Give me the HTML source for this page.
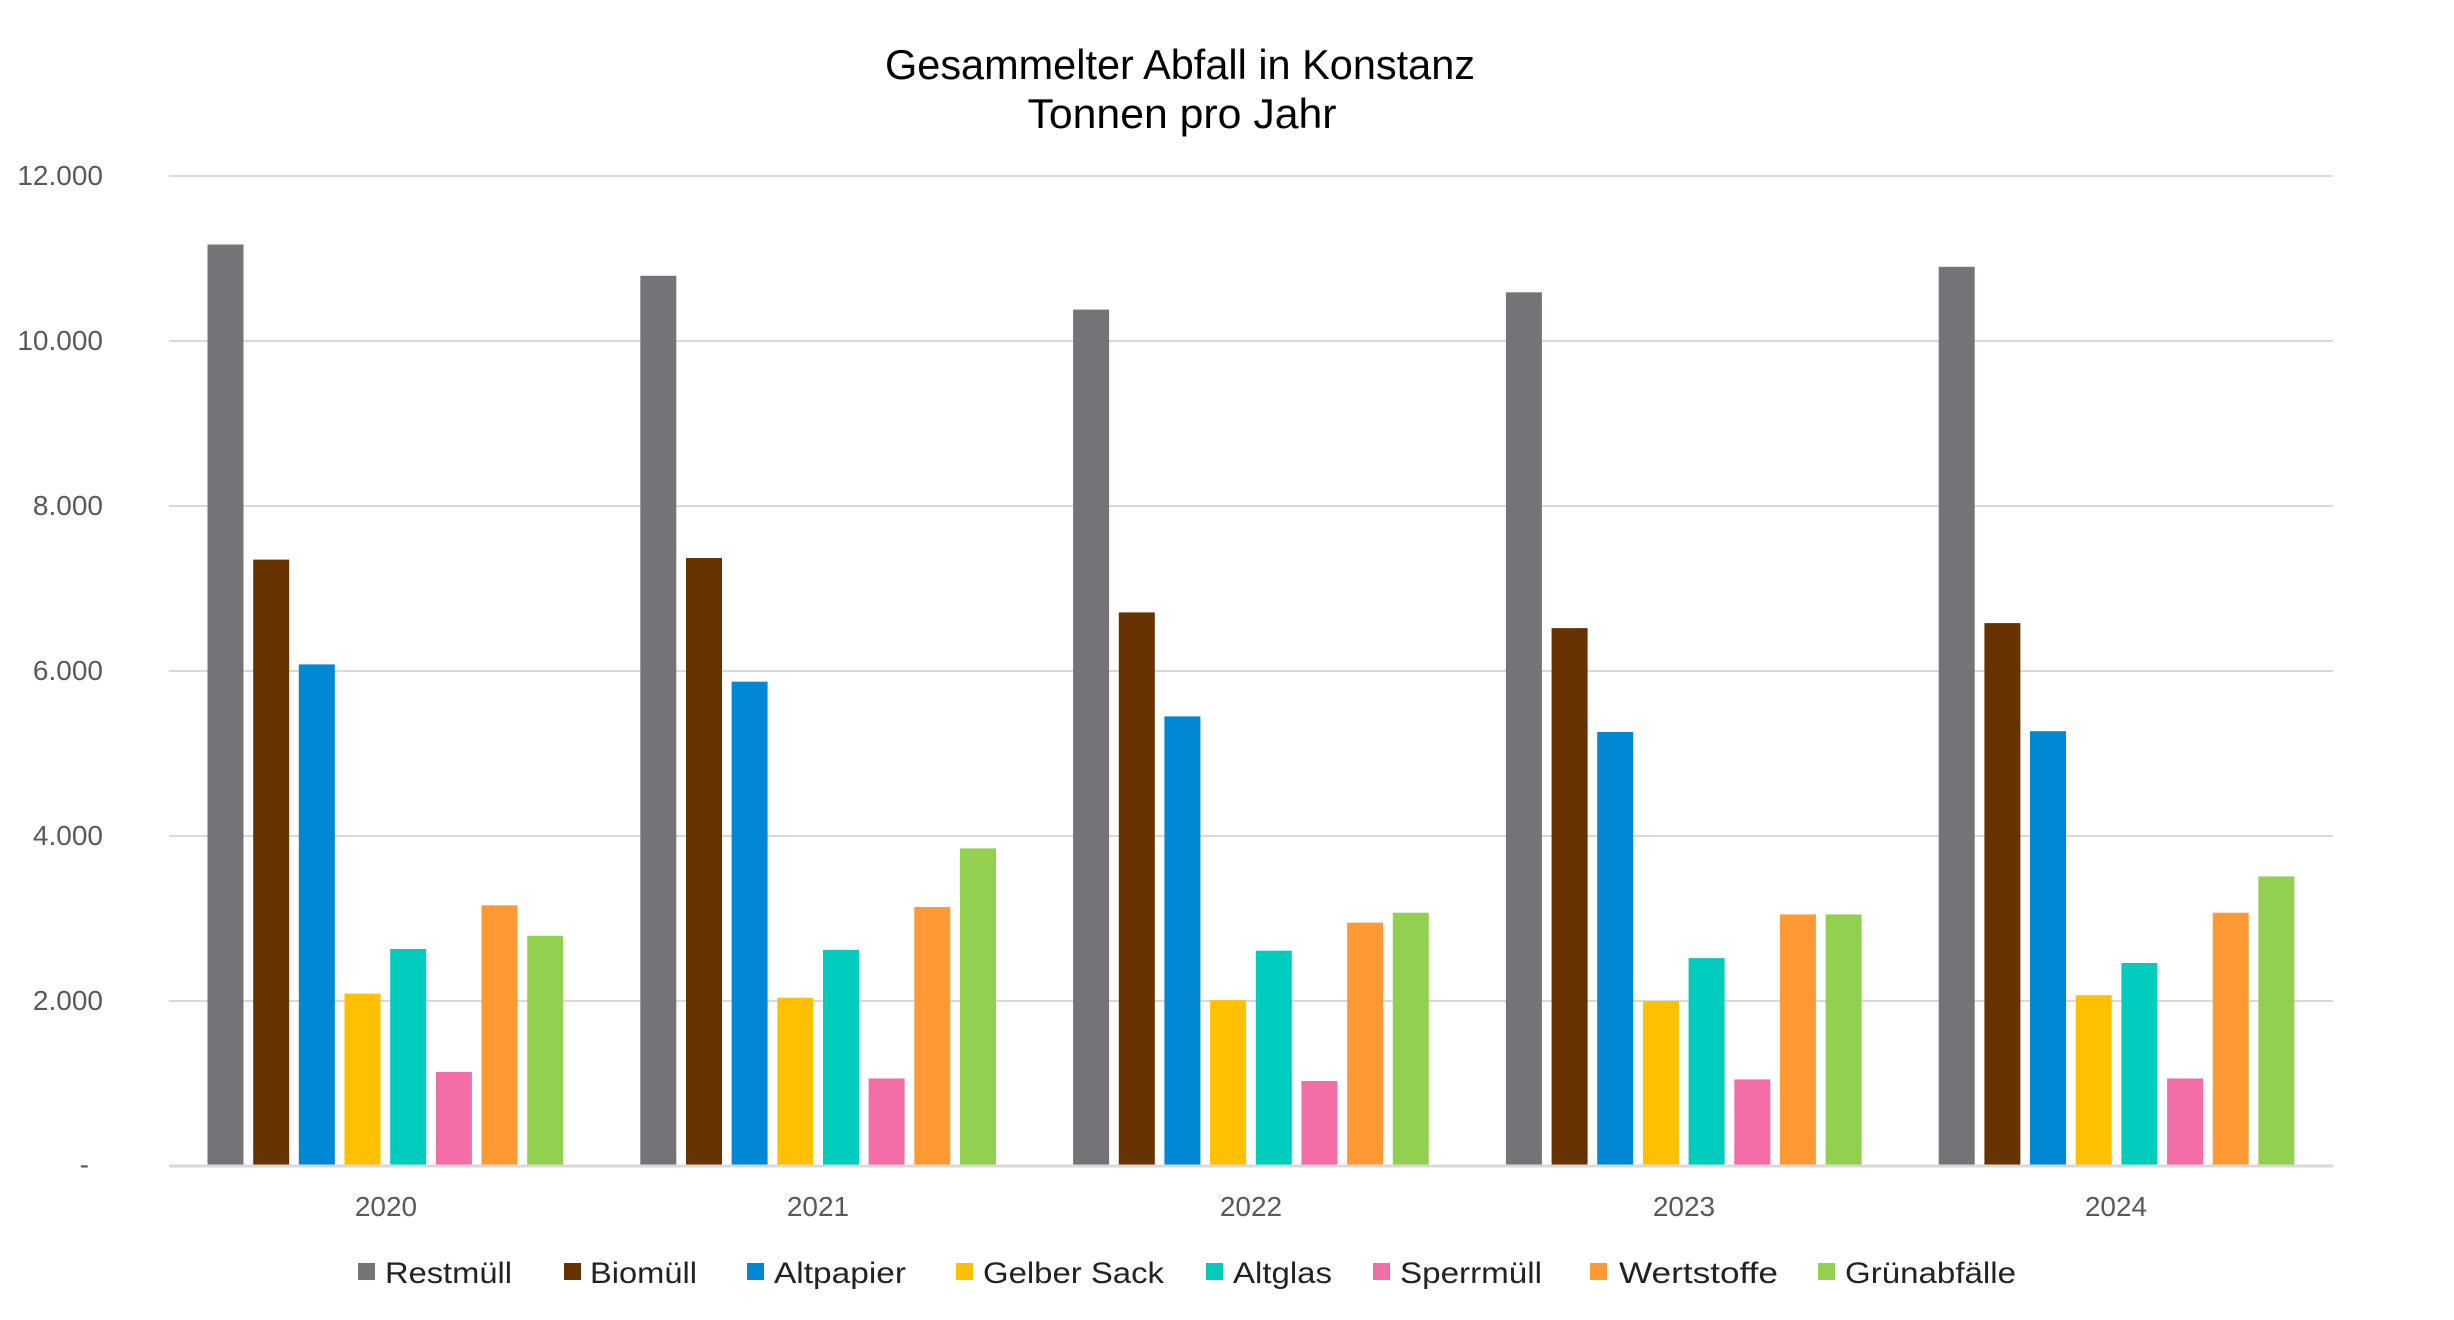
<!DOCTYPE html>
<html><head><meta charset="utf-8"><style>html,body{margin:0;padding:0;background:#fff}svg{display:block}</style></head>
<body>
<svg width="2454" height="1320" viewBox="0 0 2454 1320" xmlns="http://www.w3.org/2000/svg" font-family="Liberation Sans, sans-serif">
<rect width="2454" height="1320" fill="#fff"/>
<text x="1180" y="79" font-size="42" text-anchor="middle" fill="#000" textLength="590" lengthAdjust="spacingAndGlyphs">Gesammelter Abfall in Konstanz</text>
<text x="1182" y="128" font-size="42" text-anchor="middle" fill="#000" textLength="309" lengthAdjust="spacingAndGlyphs">Tonnen pro Jahr</text>
<g stroke="#d9d9d9" stroke-width="2">
<line x1="169" y1="176" x2="2333" y2="176"/>
<line x1="169" y1="341" x2="2333" y2="341"/>
<line x1="169" y1="506" x2="2333" y2="506"/>
<line x1="169" y1="671" x2="2333" y2="671"/>
<line x1="169" y1="836" x2="2333" y2="836"/>
<line x1="169" y1="1001" x2="2333" y2="1001"/>
</g>
<g font-size="28" fill="#595959" text-anchor="end">
<text x="103" y="185">12.000</text>
<text x="103" y="350">10.000</text>
<text x="103" y="515">8.000</text>
<text x="103" y="680">6.000</text>
<text x="103" y="845">4.000</text>
<text x="103" y="1010">2.000</text>
<text x="89" y="1174">-</text>
</g>
<g id="bars"></g>
<line x1="169" y1="1166" x2="2333" y2="1166" stroke="#d9d9d9" stroke-width="3"/>
<g font-size="28" fill="#595959" text-anchor="middle">
<text x="386" y="1216">2020</text>
<text x="818" y="1216">2021</text>
<text x="1251" y="1216">2022</text>
<text x="1684" y="1216">2023</text>
<text x="2116" y="1216">2024</text>
</g>
<g font-size="30" fill="#222" lengthAdjust="spacingAndGlyphs">
<rect x="358" y="1263" width="17" height="17" fill="#757378"/><text x="385" y="1283" textLength="127" lengthAdjust="spacingAndGlyphs">Restmüll</text>
<rect x="564" y="1263" width="17" height="17" fill="#663300"/><text x="590" y="1283" textLength="107" lengthAdjust="spacingAndGlyphs">Biomüll</text>
<rect x="747" y="1263" width="17" height="17" fill="#0088D4"/><text x="774" y="1283" textLength="132" lengthAdjust="spacingAndGlyphs">Altpapier</text>
<rect x="956" y="1263" width="17" height="17" fill="#FFC000"/><text x="983" y="1283" textLength="181" lengthAdjust="spacingAndGlyphs">Gelber Sack</text>
<rect x="1206" y="1263" width="17" height="17" fill="#00CCBE"/><text x="1233" y="1283" textLength="99" lengthAdjust="spacingAndGlyphs">Altglas</text>
<rect x="1373" y="1263" width="17" height="17" fill="#F36DA7"/><text x="1400" y="1283" textLength="142" lengthAdjust="spacingAndGlyphs">Sperrmüll</text>
<rect x="1590" y="1263" width="17" height="17" fill="#FF9933"/><text x="1619" y="1283" textLength="159" lengthAdjust="spacingAndGlyphs">Wertstoffe</text>
<rect x="1818" y="1263" width="17" height="17" fill="#92D050"/><text x="1845" y="1283" textLength="171" lengthAdjust="spacingAndGlyphs">Grünabfälle</text>
</g>
<script>
(function(){
var d=[[11170,7350,6080,2090,2630,1140,3160,2790],
[10790,7370,5870,2040,2620,1060,3140,3850],
[10380,6710,5450,2010,2610,1030,2950,3070],
[10590,6520,5260,2000,2520,1050,3050,3050],
[10900,6580,5270,2070,2460,1060,3070,3510]];
var c=["#757378","#663300","#0088D4","#FFC000","#00CCBE","#F36DA7","#FF9933","#92D050"];
var g=document.getElementById("bars"),ns="http://www.w3.org/2000/svg";
var cw=(2333-169)/5,p=45.67,bw=36,z=1166,k=0.0825;
for(var i=0;i<5;i++)for(var j=0;j<8;j++){
var r=document.createElementNS(ns,"rect"),h=d[i][j]*k;
r.setAttribute("x",(169+i*cw+38.5+j*p).toFixed(1));
r.setAttribute("y",(z-h).toFixed(1));
r.setAttribute("width",bw);r.setAttribute("height",h.toFixed(1));
r.setAttribute("fill",c[j]);g.appendChild(r);}
})();
</script>
</svg>
</body></html>
